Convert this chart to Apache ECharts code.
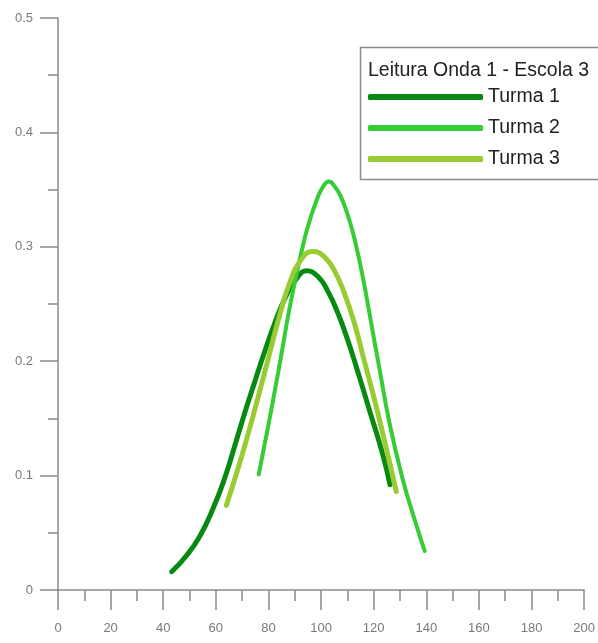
<!DOCTYPE html>
<html>
<head>
<meta charset="utf-8">
<script src="https://cdn.jsdelivr.net/npm/echarts@6/dist/echarts.min.js"></script>
<style>
html,body{margin:0;padding:0;background:#fff;}
#c{width:598px;height:643px;}
</style>
</head>
<body>
<div id="c"></div>
<script>
var seriesNames = ['Turma 1', 'Turma 2', 'Turma 3'];
var legendTitle = 'Leitura Onda 1 - Escola 3';

var turma1X = [43.2, 48.8, 53.9, 58.9, 63.4, 67.2, 71.0, 74.8, 78.5, 82.5, 86.5, 90.6, 94.5, 98.8, 102.6, 106.4, 110.2, 113.4, 118.4, 123.5, 126.2];
var turma1Y = [0.016, 0.030, 0.047, 0.071, 0.098, 0.126, 0.155, 0.182, 0.208, 0.234, 0.256, 0.272, 0.279, 0.274, 0.261, 0.242, 0.218, 0.195, 0.157, 0.118, 0.092];

var turma2X = [76.3, 79.2, 82.4, 85.0, 87.5, 90.0, 92.5, 95.0, 98.2, 100.6, 103.0, 105.4, 107.7, 110.8, 113.4, 115.9, 118.0, 120.0, 122.0, 126.0, 131.0, 135.5, 139.4];
var turma2Y = [0.101, 0.135, 0.174, 0.207, 0.240, 0.269, 0.295, 0.318, 0.340, 0.352, 0.357, 0.352, 0.343, 0.323, 0.300, 0.273, 0.247, 0.221, 0.196, 0.146, 0.097, 0.062, 0.034];

var turma3X = [64.0, 68.4, 72.2, 76.0, 80.0, 84.0, 88.0, 92.5, 96.9, 101.3, 105.1, 108.9, 112.7, 116.0, 121.0, 126.0, 128.6];
var turma3Y = [0.074, 0.106, 0.136, 0.168, 0.203, 0.238, 0.268, 0.289, 0.296, 0.291, 0.279, 0.259, 0.233, 0.204, 0.160, 0.112, 0.086];

var colors = ['#078a12', '#35cc35', '#99cc33'];
var widths = [5, 4, 5];

function pairs(xs, ys) { return xs.map(function (x, i) { return [x, ys[i]]; }); }
var allData = [pairs(turma1X, turma1Y), pairs(turma2X, turma2Y), pairs(turma3X, turma3Y)];

var chart = echarts.init(document.getElementById('c'), null, {renderer: 'canvas'});
var axisColor = '#8a8a8a';
var labelColor = '#7a7a7a';
var font = 'Liberation Sans, Arial, sans-serif';

chart.setOption({
  animation: false,
  backgroundColor: '#ffffff',
  grid: {left: 58, right: 13, top: 18, bottom: 53},
  xAxis: {
    type: 'value', min: 0, max: 200, interval: 20,
    splitLine: {show: false},
    axisLine: {lineStyle: {color: axisColor, width: 1.5}},
    axisTick: {length: 20, lineStyle: {color: axisColor, width: 1.5}},
    minorTick: {show: true, splitNumber: 2, length: 11, lineStyle: {color: axisColor, width: 1.5}},
    axisLabel: {margin: 32, color: labelColor, fontSize: 13, fontFamily: font, showMinLabel: true, showMaxLabel: true}
  },
  yAxis: {
    type: 'value', min: 0, max: 0.5, interval: 0.1,
    splitLine: {show: false},
    axisLine: {show: true, lineStyle: {color: axisColor, width: 1.5}},
    axisTick: {show: true, length: 18, lineStyle: {color: axisColor, width: 1.5}},
    minorTick: {show: true, splitNumber: 2, length: 10, lineStyle: {color: axisColor, width: 1.5}},
    axisLabel: {margin: 25, color: labelColor, fontSize: 13, fontFamily: font}
  },
  legend: {
    orient: 'vertical', left: 368, top: 86, padding: 0,
    itemWidth: 115, itemHeight: 6, itemGap: 9,
    icon: 'roundRect',
    textStyle: {fontSize: 19.5, lineHeight: 22, color: '#222', fontFamily: font},
    data: seriesNames
  },
  graphic: [
    {type: 'rect', left: 358, top: 45, shape: {width: 239, height: 132},
     style: {fill: 'none', stroke: '#8a8a8a', lineWidth: 1.5}, z: 100},
    {type: 'text', left: 368, top: 61,
     style: {text: legendTitle, fontSize: 19.5, fontFamily: font, fill: '#222'}, z: 100}
  ],
  series: seriesNames.map(function (n, i) {
    return {
      name: n, type: 'line', data: allData[i], smooth: 0.5,
      showSymbol: false, symbol: 'none',
      lineStyle: {color: colors[i], width: widths[i], cap: 'round', join: 'round'},
      itemStyle: {color: colors[i]}
    };
  })
});
</script>
</body>
</html>
